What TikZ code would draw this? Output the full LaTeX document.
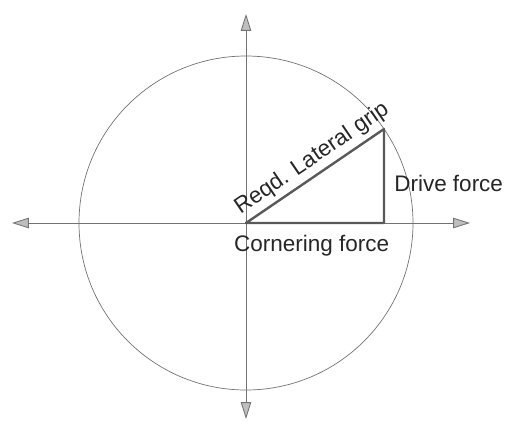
\documentclass[tikz,border=0pt]{standalone}
\usepackage{fontspec}
\setmainfont{Liberation Sans}
\usetikzlibrary{arrows.meta}

\begin{document}
\begin{tikzpicture}[x=1cm,y=1cm,
  axis/.style={draw=black!55, line width=0.6pt,
    {Triangle[length=0.42cm, width=0.26cm, fill=black!25]}-{Triangle[length=0.42cm, width=0.26cm, fill=black!25]}},
  side/.style={draw=black!65, line width=1.7pt, line join=round},
  lbl/.style={inner sep=0pt, text=black!85, font=\fontsize{16}{19}\selectfont}]
\useasboundingbox (-6.15,-4.95) rectangle (6.5,5.575);

\coordinate (O) at (0,0);
\coordinate (xl) at (-5.85,0);
\coordinate (xr) at (5.6,0);
\coordinate (yt) at (0,5.225);
\coordinate (yb) at (0,-4.9);
\coordinate (C) at (3.45,0);
\coordinate (T) at (3.45,2.35);

\draw[black!55, line width=0.5pt] (O) circle (4.175);
\draw[axis] (xl) -- (xr);
\draw[axis] (yt) -- (yb);

\draw[side] (O) -- (C) -- (T) -- cycle;

\node[lbl, rotate=34.3, anchor=base west] (grip) at (124.3:0.25) {Reqd. Lateral grip};
\node[lbl, anchor=base west] (drive) at (3.7,0.8) {Drive force};
\node[lbl, anchor=base] (corner) at (1.64,-0.7) {Cornering force};
\end{tikzpicture}
\end{document}
